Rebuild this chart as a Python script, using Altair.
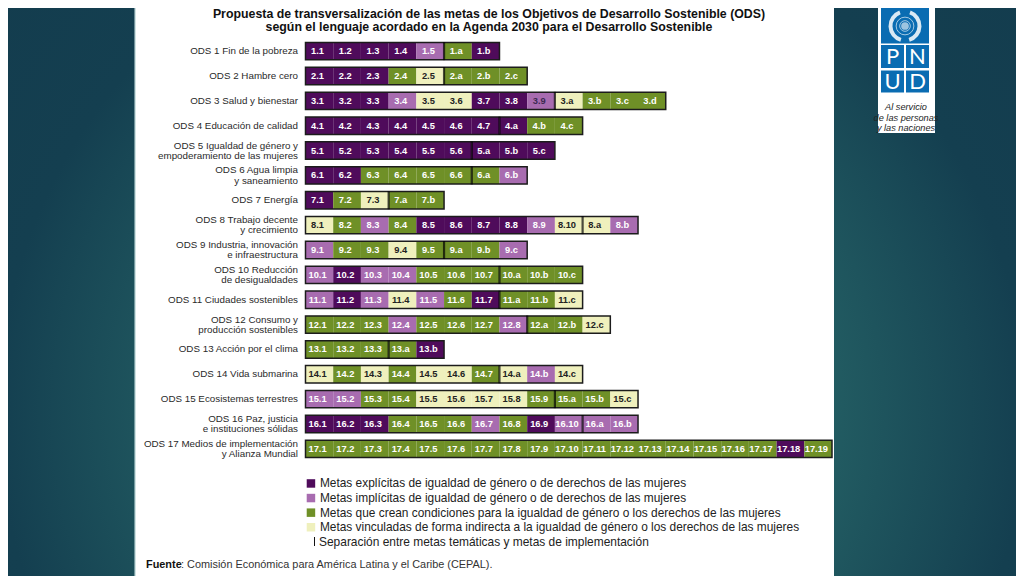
import altair as alt
import pandas as pd

TITLE_LINES = [
    "Propuesta de transversalización de las metas de los Objetivos de Desarrollo Sostenible (ODS)",
    "según el lenguaje acordado en la Agenda 2030 para el Desarrollo Sostenible",
]
GOALS = [
    "ODS 1 Fin de la pobreza", "ODS 2 Hambre cero", "ODS 3 Salud y bienestar",
    "ODS 4 Educación de calidad", "ODS 5 Igualdad de género y\nempoderamiento de las mujeres",
    "ODS 6 Agua limpia\ny saneamiento", "ODS 7 Energía", "ODS 8 Trabajo decente\ny crecimiento",
    "ODS 9 Industria, innovación\ne infraestructura", "ODS 10 Reducción\nde desigualdades",
    "ODS 11 Ciudades sostenibles", "ODS 12 Consumo y\nproducción sostenibles",
    "ODS 13 Acción por el clima", "ODS 14 Vida submarina", "ODS 15 Ecosistemas terrestres",
    "ODS 16 Paz, justicia\ne instituciones sólidas", "ODS 17 Medios de implementación\ny Alianza Mundial",
]
TARGETS = [
    "1.1 1.2 1.3 1.4 1.5 1.a 1.b",
    "2.1 2.2 2.3 2.4 2.5 2.a 2.b 2.c",
    "3.1 3.2 3.3 3.4 3.5 3.6 3.7 3.8 3.9 3.a 3.b 3.c 3.d",
    "4.1 4.2 4.3 4.4 4.5 4.6 4.7 4.a 4.b 4.c",
    "5.1 5.2 5.3 5.4 5.5 5.6 5.a 5.b 5.c",
    "6.1 6.2 6.3 6.4 6.5 6.6 6.a 6.b",
    "7.1 7.2 7.3 7.a 7.b",
    "8.1 8.2 8.3 8.4 8.5 8.6 8.7 8.8 8.9 8.10 8.a 8.b",
    "9.1 9.2 9.3 9.4 9.5 9.a 9.b 9.c",
    "10.1 10.2 10.3 10.4 10.5 10.6 10.7 10.a 10.b 10.c",
    "11.1 11.2 11.3 11.4 11.5 11.6 11.7 11.a 11.b 11.c",
    "12.1 12.2 12.3 12.4 12.5 12.6 12.7 12.8 12.a 12.b 12.c",
    "13.1 13.2 13.3 13.a 13.b",
    "14.1 14.2 14.3 14.4 14.5 14.6 14.7 14.a 14.b 14.c",
    "15.1 15.2 15.3 15.4 15.5 15.6 15.7 15.8 15.9 15.a 15.b 15.c",
    "16.1 16.2 16.3 16.4 16.5 16.6 16.7 16.8 16.9 16.10 16.a 16.b",
    "17.1 17.2 17.3 17.4 17.5 17.6 17.7 17.8 17.9 17.10 17.11 17.12 17.13 17.14 17.15 17.16 17.17 17.18 17.19",
]
# E explicit, I implicit, C conditions, V indirectly linked
CLASSES = [
    "EEEEICE", "EEECVCCC", "EEEIVVEEIVCCC", "EEEEEEEECC", "EEEEEEEEE", "EECCCCCI", "ECVCC",
    "VCICEEEEIVVI", "ICCVCCCI", "IEIICCCCCC", "IEIVICECCV", "CCCICCCICCV", "CCCCE",
    "VCVCVVCVIV", "IICCVVVVCCCV", "EEECCCICEIII", "CCCCCCCCCCCCCCCCCEC",
]
# Number of thematic targets before the separator (ODS 17 has none)
THEMATIC = [5, 5, 9, 7, 6, 6, 3, 10, 5, 7, 7, 8, 3, 7, 9, 10, None]
LEGEND_NAMES = [
    "Metas explícitas de igualdad de género o de derechos de las mujeres",
    "Metas implícitas de igualdad de género o de derechos de las mujeres",
    "Metas que crean condiciones para la igualdad de género o los derechos de las mujeres",
    "Metas vinculadas de forma indirecta a la igualdad de género o los derechos de las mujeres",
]
LEGEND_COLORS = ["#4f0b5b", "#a86cb0", "#6f9027", "#eff0bd"]
SEPARATOR_NOTE = "Separación entre metas temáticas y metas de implementación"
SOURCE_BOLD = "Fuente"
SOURCE_REST = ": Comisión Económica para América Latina y el Caribe (CEPAL)."
LOGO_LETTERS = ["P", "N", "U", "D"]
LOGO_TAGLINE = ["Al servicio", "de las personas", "y las naciones"]

W, H = 1008, 568
FONT = "Liberation Sans"
name_of = dict(zip("EICV", LEGEND_NAMES))

cells, frames = [], []
for goal, tg, cl, sep in zip(GOALS, TARGETS, CLASSES, THEMATIC):
    labels = tg.split()
    for i, (lab, c) in enumerate(zip(labels, cl)):
        ink = "#222222" if c == "V" else ("#3d2a52" if lab == "3.9" else "#ffffff")
        cells.append(dict(goal=goal, start=i, end=i + 1, mid=i + 0.5, label=lab, kind=name_of[c], ink=ink))
    frames.append(dict(goal=goal, start=0, end=len(labels), sep=sep, two="\n" in goal))
cells = pd.DataFrame(cells)
frames = pd.DataFrame(frames)

x_scale = alt.Scale(domain=[0, 19], range=[297.5, 824.0], nice=False, zero=False)
y_scale = alt.Scale(domain=GOALS, range=[30.7, 453.3], paddingInner=0.3, paddingOuter=0.15)
X = lambda f: alt.X(f, type="quantitative", scale=x_scale, axis=None)
Y = alt.Y("goal:N", scale=y_scale, axis=None, sort=None)


def box(x0, x1, y0, y1, color, **kw):
    return alt.Chart(pd.DataFrame({"a": [0]})).mark_rect(color=color, **kw).encode(
        x=alt.value(x0 - 8), x2=alt.value(x1 - 8), y=alt.value(y0 - 8), y2=alt.value(y1 - 8))


def note(text, x, y, size=11, color="#222222", align="left", font=FONT, **kw):
    return alt.Chart(pd.DataFrame({"t": [text]})).mark_text(
        align=align, baseline="middle", fontSize=size, color=color, font=font, **kw
    ).encode(x=alt.value(x - 8), y=alt.value(y - 8), text="t:N")


backdrop = box(8, 1016, 8, 576, alt.RadialGradient(
    gradient="radial", x1=0.5, y1=0.62, r1=0, x2=0.5, y2=0.62, r2=0.75,
    stops=[alt.GradientStop(offset=0, color="#2a6a70"), alt.GradientStop(offset=0.42, color="#225c62"),
           alt.GradientStop(offset=0.68, color="#143f50"), alt.GradientStop(offset=1, color="#133b4d")]))
panel_edge = box(134.5, 136, 8, 576, "#cfe3e3")
panel = box(136, 834, 8, 576, "#ffffff")

rects = alt.Chart(cells).mark_rect().encode(
    x=X("start"), x2="end:Q", y=Y,
    color=alt.Color("kind:N", scale=alt.Scale(domain=LEGEND_NAMES, range=LEGEND_COLORS), legend=alt.Legend(
        orient="none", legendX=297, legendY=469.5, title=None, symbolType="square", symbolSize=72,
        symbolStrokeWidth=0, symbolOpacity=1, labelFont=FONT, labelFontSize=11.9, labelColor="#222222",
        labelLimit=620, rowPadding=1.6, labelOffset=3)),
)
outline = alt.Chart(frames).mark_rect(fillOpacity=0, stroke="#1c1c1c", strokeWidth=1.5).encode(
    x=X("start"), x2="end:Q", y=Y)
separators = alt.Chart(frames[frames["sep"].notna()]).mark_tick(
    orient="vertical", color="#000000", thickness=2.2, size=18).encode(x=X("sep"), y=Y)

target_text = [
    alt.Chart(cells[cells["ink"] == ink]).mark_text(
        fontSize=9.3, fontWeight="bold", font=FONT, color=ink, dx=-1.8).encode(x=X("mid"), y=Y, text="label:N")
    for ink in cells["ink"].unique()
]
goal_text = [
    alt.Chart(frames[frames["two"] == two]).mark_text(
        align="right", baseline="middle", font=FONT, fontSize=9.8, color="#2a2a2a",
        lineBreak="\n", lineHeight=10.2, dy=-5 if two else 0
    ).encode(x=alt.value(290), y=Y, text="goal:N")
    for two in (False, True)
]

titles = [note(t, 489, y, size=12.35, color="#111111", align="center", fontWeight="bold")
          for t, y in zip(TITLE_LINES, [14, 27])]
sep_key = alt.Chart(pd.DataFrame({"a": [0]})).mark_rule(color="#111111", strokeWidth=1).encode(
    x=alt.value(314.5 - 8), y=alt.value(537 - 8), y2=alt.value(546 - 8))
sep_note = note(SEPARATOR_NOTE, 319, 541.5, size=11.95)
source_a = note(SOURCE_BOLD, 146, 564.5, size=10.9, color="#111111", fontWeight="bold")
source_b = note(SOURCE_REST, 181, 564.5, size=10.9, color="#333333")

# PNUD logo
logo = [box(878, 935, 8, 133, "#ffffff"), box(881, 929, 8, 43.5, "#0a6cb2")]
cells_xy = [(881, 904, 45, 68), (906, 929, 45, 68), (881, 904, 70.5, 92.5), (906, 929, 70.5, 92.5)]
for (x0, x1, y0, y1), letter in zip(cells_xy, LOGO_LETTERS):
    logo.append(box(x0, x1, y0, y1, "#0a6cb2"))
    logo.append(note(letter, (x0 + x1) / 2, (y0 + y1) / 2 + 0.5, size=22, color="#ffffff", align="center", font="Lato"))
emblem = pd.DataFrame({"a": [0]})
ex, ey = alt.value(905 - 8), alt.value(26 - 8)
logo.append(alt.Chart(emblem).mark_point(shape="circle", size=60, color="#ffffff", filled=True, opacity=0.6).encode(x=ex, y=ey))
for size in (314, 113):
    logo.append(alt.Chart(emblem).mark_point(shape="circle", size=size, color="#ffffff", strokeWidth=0.9, filled=False).encode(x=ex, y=ey))
for th0, th1 in ((0.35, 2.85), (3.43, 5.93)):
    logo.append(alt.Chart(emblem).mark_arc(radius=16.5, radius2=12.5, theta=th0, theta2=th1, color="#ffffff", opacity=0.85).encode(x=ex, y=ey))
for text, y in zip(LOGO_TAGLINE, [106.5, 117.5, 128]):
    logo.append(note(text, 906, y, size=9.2, color="#222222", align="center", fontStyle="italic"))

chart = alt.layer(
    backdrop, panel_edge, panel, rects, outline, separators, *target_text, *goal_text, *titles,
    sep_key, sep_note, source_a, source_b, *logo,
).properties(width=W, height=H, padding=0, autosize=alt.AutoSizeParams(type="none")
).configure_view(stroke=None)

chart.save("out.html", embed_options={"renderer": "svg", "actions": False})
